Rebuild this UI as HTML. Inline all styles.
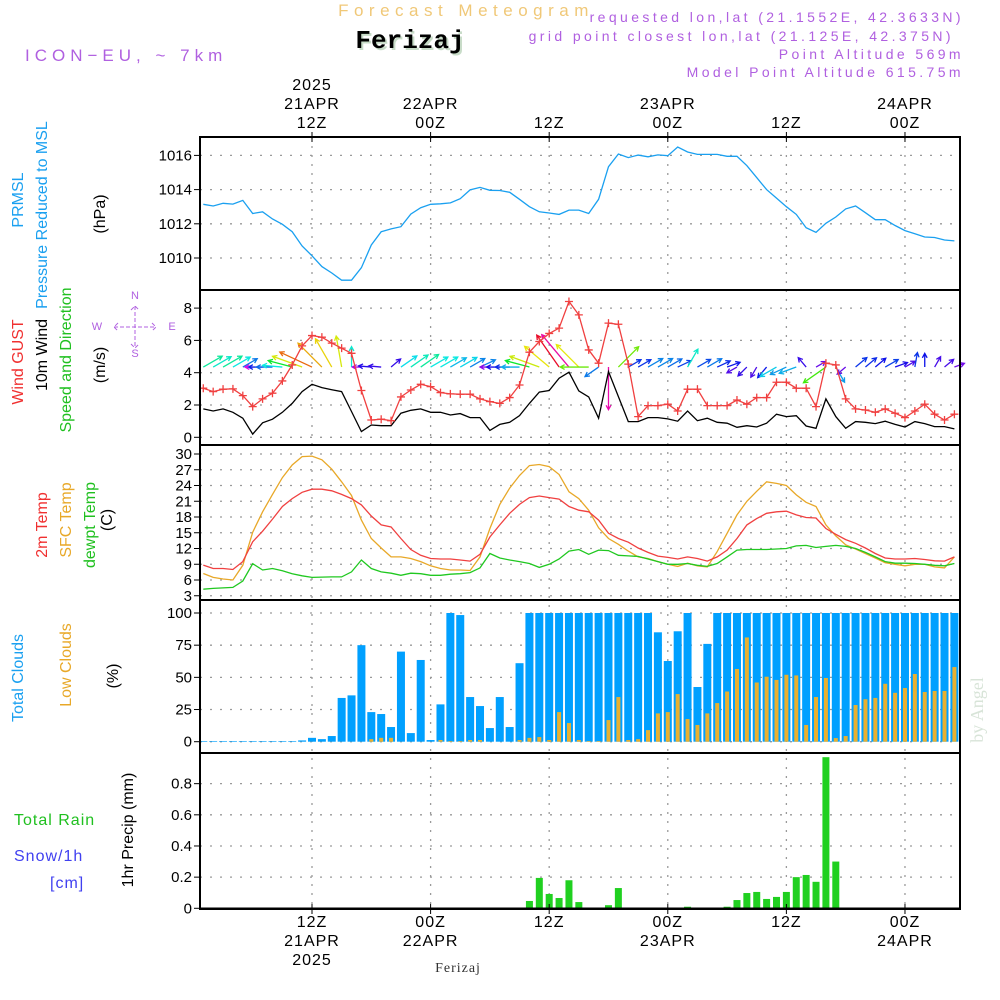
<!DOCTYPE html>
<html><head><meta charset="utf-8">
<style>
html,body{margin:0;padding:0;background:#fff;}
svg{display:block;font-family:"Liberation Sans",sans-serif;}
.t{font-size:16px;fill:#000;letter-spacing:1px;}
</style></head>
<body>
<svg id="chart" width="1000" height="1000" viewBox="0 0 1000 1000" xmlns="http://www.w3.org/2000/svg">
<rect width="1000" height="1000" fill="#fff"/>
<text x="466" y="16" text-anchor="middle" font-size="17" fill="#f0c878" letter-spacing="5.5">Forecast Meteogram</text>
<text x="412" y="50" text-anchor="middle" font-size="26" font-weight="bold" font-family="Liberation Mono, monospace" fill="#c8dcc8">Ferizaj</text>
<text x="410" y="48" text-anchor="middle" font-size="26" font-weight="bold" font-family="Liberation Mono, monospace" fill="#000">Ferizaj</text>
<text x="25" y="61" font-size="17" fill="#b060e0" letter-spacing="5">ICON−EU, ~ 7km</text>
<g font-size="14" fill="#b060e0" text-anchor="end" letter-spacing="3.4">
<text x="964" y="22">requested lon,lat (21.1552E, 42.3633N)</text>
<text x="954" y="41">grid point closest lon,lat (21.125E, 42.375N)</text>
<text x="964" y="59">Point Altitude 569m</text>
<text x="964" y="77">Model Point Altitude 615.75m</text>
</g>
<text transform="translate(983,710) rotate(-90)" text-anchor="middle" font-size="18" font-family="Liberation Serif, serif" fill="#d8e4d8">by Angel</text>
<g id="labels"></g>
<g id="grid"></g>
<g id="marks"></g>
<g id="frame"></g>
</svg>
<script>
// ---------- data (hourly, h = 1..77 hours since 21APR 00Z) ----------
const hours = Array.from({length:77},(_,i)=>i+1);
const pressure = [1013.14,1013.04,1013.2,1013.15,1013.37,1012.6,1012.7,1012.28,1011.97,1011.54,1010.7,1010.13,1009.5,1009.12,1008.7,1008.7,1009.43,1010.76,1011.54,1011.7,1011.83,1012.57,1012.94,1013.14,1013.17,1013.22,1013.47,1013.98,1014.13,1013.96,1013.95,1013.84,1013.43,1013.0,1012.7,1012.63,1012.55,1012.8,1012.8,1012.6,1013.43,1015.34,1016.08,1015.87,1016.02,1015.92,1016.03,1015.98,1016.49,1016.2,1016.06,1016.06,1016.06,1015.95,1015.95,1015.4,1014.7,1014.0,1013.5,1013.0,1012.55,1011.77,1011.5,1012.03,1012.4,1012.87,1013.04,1012.65,1012.24,1012.24,1011.9,1011.6,1011.42,1011.23,1011.2,1011.05,1011.0];
const wind10m = [1.76,1.63,1.76,1.55,1.18,0.2,0.9,1.12,1.55,2.1,2.83,3.28,3.08,2.95,2.83,1.6,0.35,0.76,0.72,0.72,1.49,1.67,1.76,1.55,1.55,1.38,1.47,1.22,1.22,0.43,0.8,0.93,1.34,2.1,2.8,2.9,3.66,4.03,2.87,2.5,1.18,4.07,2.52,0.97,0.97,1.22,1.22,1.14,1.0,1.63,1.03,1.18,0.93,0.87,0.62,0.72,0.64,0.87,1.43,1.28,1.34,0.7,0.56,2.38,1.28,0.56,0.97,0.93,0.85,1.0,0.8,0.64,0.97,0.85,0.66,0.66,0.52];
const gust = [3.04,2.83,2.98,3.0,2.58,1.9,2.38,2.73,3.49,4.48,5.66,6.3,6.2,5.83,5.52,5.2,2.9,1.07,1.12,1.03,2.5,2.93,3.28,3.14,2.77,2.69,2.67,2.67,2.38,2.21,2.1,2.46,3.24,5.27,5.93,6.43,6.76,8.41,7.58,5.41,4.59,7.07,7.0,4.53,1.28,1.96,1.96,2.05,1.63,2.98,2.98,1.96,1.96,1.96,2.31,2.05,2.46,2.46,3.41,3.41,3.04,3.04,1.9,4.59,4.48,2.38,1.76,1.69,1.55,1.76,1.49,1.22,1.63,2.05,1.43,1.07,1.43];
const windDir = [30,30,30,30,30,180,180,180,175,165,160,155,135,120,100,90,180,175,175,40,35,35,35,30,30,30,30,30,25,180,180,180,180,165,160,140,125,130,135,180,215,270,45,30,30,30,30,30,25,60,30,30,25,20,210,225,240,230,210,205,200,130,30,215,300,220,40,40,40,30,20,30,80,90,60,40,20];
const temp2m = [8.83,8.2,8.2,8.0,9.5,13.3,15.3,17.6,20,21.5,22.7,23.3,23.3,23.0,22.3,21.5,20.3,18.2,16.5,16.1,13.9,11.8,10.7,10.1,10.0,10.0,9.8,9.6,10.9,14.2,16.5,18.7,20.4,21.7,22.0,21.7,21.4,20.0,19.3,19.0,17.4,14.9,13.9,13.2,12.1,11.25,10.55,10.3,10.0,10.4,10.1,9.6,10.4,11.7,13.9,16.5,17.7,18.7,19.0,19.1,18.4,17.9,17.8,15.8,14.7,13.7,13.0,12.1,11.05,10.2,10.0,10.0,10.1,9.9,9.65,9.6,10.4];
const tempSfc = [7.24,6.5,6.2,6.0,8.8,15.1,19,22.3,25.5,27.9,29.5,29.6,28.9,27.1,24.7,22.1,17.4,13.9,12.1,10.4,10.4,10.1,9.5,8.7,8.2,7.9,7.9,7.8,10.4,15.8,20.4,23.5,25.9,27.8,28.0,27.6,26.1,22.8,21.5,19.3,15.95,13.9,12.8,11.5,10.4,10.1,9.5,9.0,8.6,9.2,8.7,8.5,11.4,14.9,18.4,21.0,22.9,24.7,24.4,24.0,22.2,20.8,20.0,16.5,14.4,12.7,11.9,11.05,10.2,9.3,9.0,8.7,9.0,9.0,8.5,8.3,10.4];
const dewpt = [4.25,4.4,4.5,4.6,5.8,9.1,7.9,8.2,7.75,7.2,6.8,6.5,6.55,6.6,6.6,7.55,9.8,8.2,7.55,7.3,6.9,7.3,7.2,6.9,6.9,7.1,7.2,7.4,8.3,11.05,10.2,9.8,9.5,9.15,8.4,9.0,10.0,11.5,11.8,10.9,11.7,11.6,10.7,10.6,10.5,10.0,9.5,9.0,9.0,9.15,8.8,8.6,9.15,10.4,11.7,11.8,11.8,11.8,11.9,12.0,12.5,12.6,12.2,12.4,12.6,12.4,12.0,11.25,10.4,9.5,9.2,9.2,9.15,9.0,8.8,8.7,9.15];
const totalClouds = [0.5,0.5,0.5,0.5,0.5,0.5,0.5,0.5,0.5,0.5,1,3,2,4.4,34,36,75,23,21.5,11.4,70,6.7,63.5,1.3,29,100,98.4,34.7,27.7,10.6,34.7,11.4,61,100,100,100,100,100,100,100,100,100,100,100,100,100,85,62.7,85.8,100,42.5,76,100,100,100,100,100,100,100,100,100,100,100,100,100,100,100,100,100,100,100,100,100,100,100,100,100];
const lowClouds = [0,0,0,0,0,0,0,0,0,0,0,0,0,0,0,0,0,2,3,3,0,0,0,0,1.3,0.5,0.5,1.3,1.3,0,0,0,1.3,3,3.6,1.3,23,14.5,1.3,0.5,0.5,16.8,34.7,1.3,2,9,22,23,37,17.6,13,22,30,39,56.5,81,46,50.5,48,52,51.5,13,34.7,49.5,2.8,4.4,28.5,33,34,45,38,41.7,52.6,38.6,39.4,39.4,58];
const precip = [0,0,0,0,0,0,0,0,0,0,0,0,0,0,0,0,0,0,0,0,0,0,0,0,0,0,0,0,0,0,0,0,0,0.047,0.195,0.092,0.066,0.18,0.04,0,0,0.02,0.13,0,0,0,0,0,0,0.01,0,0,0,0.01,0.053,0.098,0.105,0.06,0.073,0.105,0.2,0.214,0.17,0.97,0.3,0,0,0,0,0,0,0,0,0,0,0,0];
const timeTicks = [12,24,36,48,60,72];
const topTickLabels = [["2025","21APR","12Z"],["22APR","00Z"],["12Z"],["23APR","00Z"],["12Z"],["24APR","00Z"]];
const bottomTickLabels = [["12Z","21APR","2025"],["00Z","22APR"],["12Z"],["00Z","23APR"],["12Z"],["00Z","24APR"]];
const pTicks = [1010,1012,1014,1016];
const wTicks = [0,2,4,6,8];
const tTicks = [3,6,9,12,15,18,21,24,27,30];
const cTicks = [0,25,50,75,100];
const rTicks = [0,0.2,0.4,0.6,0.8];

// ---------- scales ----------
const X0=200, X1=960;
const xS = h => 312 + (h-12)*9.883;
const yP = p => 258 - (p-1010)*17.1;
const yW = v => 437.3 - v*16.15;
const yT = t => 454 + (30-t)*5.25;
const yC = c => 741.7 - c*1.287;
const yR = r => 908.3 - r*155.8;
const panels = [[137,290],[290,445],[445,600],[600,753],[753,909]];

const NS='http://www.w3.org/2000/svg';
function mk(tag, attrs, parent){const e=document.createElementNS(NS,tag);for(const k in attrs)e.setAttribute(k,attrs[k]);parent.appendChild(e);return e;}
const gGrid=document.getElementById('grid'), gMarks=document.getElementById('marks'), gFrame=document.getElementById('frame'), gLab=document.getElementById('labels');

timeTicks.forEach(h=>{
  const l=mk('line',{x1:xS(h),x2:xS(h),y1:137,y2:909,stroke:'#9a9a9a','stroke-width':1.3,'stroke-dasharray':'2,7'},gGrid);
  
  
});
function hgrid(ticks, ys, name){
  ticks.forEach(v=>{
    const l=mk('line',{x1:X0,x2:X1,y1:ys(v),y2:ys(v),stroke:'#9a9a9a','stroke-width':1.3,'stroke-dasharray':'2,8'},gGrid);
    
    
    const t=mk('text',{x:192,y:ys(v)+5,'text-anchor':'end','font-size':15,fill:'#000'},gLab);
    t.textContent = String(v);
    
    
    const tk=mk('line',{x1:194,x2:200,y1:ys(v),y2:ys(v),stroke:'#000','stroke-width':1},gFrame);
    
    
  });
}
hgrid(pTicks,yP,'pressure');
hgrid(wTicks,yW,'wind');
hgrid(tTicks,yT,'temp');
hgrid(cTicks,yC,'cloud');
hgrid(rTicks,yR,'precip');

timeTicks.forEach((h,i)=>{
  const top=topTickLabels[i];
  top.forEach((s,j)=>{
    const t=mk('text',{x:xS(h),y:128-(top.length-1-j)*19,'text-anchor':'middle',class:'t'},gLab);
    t.textContent=s;
    
    
  });
  bottomTickLabels[i].forEach((s,j)=>{
    const t=mk('text',{x:xS(h),y:927+j*19,'text-anchor':'middle',class:'t'},gLab);
    t.textContent=s;
    
    
  });
  [137,909].forEach(yy=>{
    const tk=mk('line',{x1:xS(h),x2:xS(h),y1:yy-5,y2:yy+5,stroke:'#000','stroke-width':1},gFrame);
    
    
  });
});

function line(vals, ys, color, name, w){
  const d=vals.map((v,i)=>(i?'L':'M')+xS(hours[i]).toFixed(1)+','+ys(v).toFixed(1)).join('');
  const p=mk('path',{d:d,fill:'none',stroke:color,'stroke-width':w||1.3},gMarks);
  
  
}
line(pressure,yP,'#1aa0f0','pressure-line');

hours.forEach((h,i)=>{
  const x=xS(h);
  const b=mk('rect',{x:x-4,y:yC(totalClouds[i]),width:8,height:yC(0)-yC(totalClouds[i]),fill:'#00a0ff'},gMarks);
  
  
  if(lowClouds[i]>0){
    const o=mk('rect',{x:x-2,y:yC(lowClouds[i]),width:4,height:yC(0)-yC(lowClouds[i]),fill:'#e8b030'},gMarks);
    
    
  }
  if(precip[i]>0){
    const r=mk('rect',{x:x-3.5,y:yR(precip[i]),width:7,height:yR(0)-yR(precip[i]),fill:'#20d020'},gMarks);
    
    
  }
});

function hueFor(v){let h=270-(v-0.5)*88; if(h<0)h+=360; return 'hsl('+h.toFixed(0)+',90%,48%)';}
hours.forEach((h,i)=>{
  const x=xS(h), y=yW(4.35), v=wind10m[i];
  const L=6+v*9, a=windDir[i]*Math.PI/180;
  const ex=x+L*Math.cos(a), ey=y-L*Math.sin(a);
  const c=hueFor(v);
  const hx1=ex-5*Math.cos(a-0.5), hy1=ey+5*Math.sin(a-0.5);
  const hx2=ex-5*Math.cos(a+0.5), hy2=ey+5*Math.sin(a+0.5);
  const p=mk('path',{d:`M${x},${y}L${ex},${ey}M${hx1},${hy1}L${ex},${ey}L${hx2},${hy2}`,stroke:c,'stroke-width':1.3,fill:'none'},gMarks);
  
  
});
line(wind10m,yW,'#000','wind-speed-line');
line(gust,yW,'#f04040','wind-gust-line');
hours.forEach((h,i)=>{
  const x=xS(h), y=yW(gust[i]);
  const p=mk('path',{d:`M${x-4},${y}h8M${x},${y-4}v8`,stroke:'#f04040','stroke-width':1.3},gMarks);
  
  
});
line(tempSfc,yT,'#e8a828','sfc-temp-line');
line(temp2m,yT,'#f04040','temp-2m-line');
line(dewpt,yT,'#20c820','dewpoint-line');
mk('line',{x1:X0,x2:X1,y1:yR(0),y2:yR(0),stroke:'#000','stroke-width':1.5},gMarks);

panels.forEach(([a,b])=>{
  const r=mk('rect',{x:X0,y:a,width:X1-X0,height:b-a,fill:'none',stroke:'#000','stroke-width':2},gFrame);
  
  
});

function vt(txt,x,y,color,size,name){
  const t=mk('text',{transform:`translate(${x},${y}) rotate(-90)`,'text-anchor':'middle','font-size':size||15,fill:color},gLab);
  t.textContent=txt;
  
  
}
vt('PRMSL',23,200,'#1aa0f0',16,'pressure-title');
vt('Pressure Reduced to MSL',47,215,'#1aa0f0',16,'pressure-subtitle');
vt('(hPa)',105,214,'#000',16,'pressure-unit');
vt('Wind GUST',23,362,'#f03030',16,'gust-title');
vt('10m Wind',47,355,'#000',16,'wind-title');
vt('Speed and Direction',71,360,'#20c020',16,'wind-subtitle');
vt('(m/s)',105,365,'#000',16,'wind-unit');
vt('2m Temp',47,525,'#f03030',16,'temp-2m-title');
vt('SFC Temp',71,520,'#e8a828',16,'sfc-temp-title');
vt('dewpt Temp',95,525,'#20c020',16,'dewpt-title');
vt('(C)',112,520,'#000',16,'temp-unit');
vt('Total Clouds',23,678,'#1aa0f0',16,'total-cloud-title');
vt('Low Clouds',71,665,'#e8a828',16,'low-cloud-title');
vt('(%)',118,676,'#000',16,'cloud-unit');
vt('1hr Precip (mm)',133,830,'#000',16,'precip-title');
function ht(txt,x,y,color,name){
  const t=mk('text',{x:x,y:y,'font-size':16,fill:color,'letter-spacing':'1'},gLab);
  t.textContent=txt;
  
  
}
ht('Total  Rain',14,825,'#20c020','rain-legend');
ht('Snow/1h',14,861,'#4040f0','snow-legend');
ht('[cm]',50,888,'#4040f0','snow-unit');
const ft=mk('text',{x:458,y:972,'text-anchor':'middle','font-size':14,'font-family':'Liberation Serif, serif',fill:'#333','letter-spacing':'1'},gLab);
ft.textContent='Ferizaj';


const cg=mk('g',{fill:'#b060e0','font-size':11,'text-anchor':'middle'},gLab);


[['N',135,299],['S',135,357],['W',97,330],['E',172,330]].forEach(([s,x,y])=>{const t=mk('text',{x:x,y:y},cg);t.textContent=s;});
mk('path',{d:'M114,327h42M135,306v42M118,323l-4,4l4,4M152,323l4,4l-4,4M131,310l4,-4l4,4M131,344l4,4l4,-4',stroke:'#b060e0','stroke-width':1,fill:'none','stroke-dasharray':'4,2'},cg);
</script>
</body></html>
